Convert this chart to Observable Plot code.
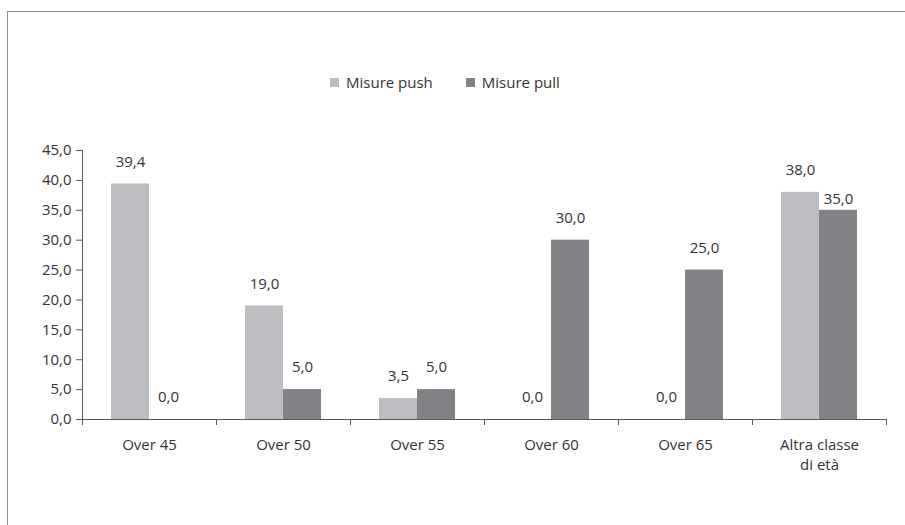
<!DOCTYPE html>
<html>
<head>
<meta charset="utf-8">
<script src="https://cdn.jsdelivr.net/npm/d3@7"></script>
<script src="https://cdn.jsdelivr.net/npm/@observablehq/plot@0.6"></script>
<style>
  html, body { margin: 0; padding: 0; background: #fff; }
  #wrap { position: relative; width: 905px; height: 525px; font-family: "Open Sans", sans-serif; color: #333; overflow: hidden; }
  #border { position: absolute; left: 7px; top: 11px; width: 910px; height: 530px; border-left: 1px solid #8c8c8c; border-top: 1px solid #8c8c8c; }
  #legend { position: absolute; left: 330px; top: 72px; display: flex; align-items: center; font-size: 15px; line-height: 20px; }
  .item { display: flex; align-items: center; margin-right: 33px; }
  .sw { width: 9px; height: 9px; margin-right: 7px; }
  #chart { position: absolute; left: 0; top: 0; }
</style>
</head>
<body>
<div id="wrap">
  <div id="border"></div>
  <div id="legend"></div>
  <div id="chart"></div>
</div>
<script>
const categories = ["Over 45", "Over 50", "Over 55", "Over 60", "Over 65", "Altra classe\ndi età"];
const series = ["Misure push", "Misure pull"];
const pushValues = [39.4, 19.0, 3.5, 0.0, 0.0, 38.0];
const pullValues = [0.0, 5.0, 5.0, 30.0, 25.0, 35.0];
const seriesColors = ["#bcbdc0", "#808285"];
const yTicks = [0, 5, 10, 15, 20, 25, 30, 35, 40, 45];

const rows = [];
categories.forEach((c, i) => {
  rows.push({cat: c, series: series[0], value: pushValues[i]});
  rows.push({cat: c, series: series[1], value: pullValues[i]});
});
const fmt = d => d.toFixed(1).replace(".", ",");

// legend
const legend = document.getElementById("legend");
series.forEach((s, i) => {
  const item = document.createElement("div");
  item.className = "item";
  const sw = document.createElement("span");
  sw.className = "sw";
  sw.style.background = seriesColors[i];
  const t = document.createElement("span");
  t.textContent = s;
  item.appendChild(sw); item.appendChild(t);
  legend.appendChild(item);
});

const pushRows = rows.filter(d => d.series === series[0]);
const pullRows = rows.filter(d => d.series === series[1]);
const lastCat = categories[categories.length - 1];

const plot = Plot.plot({
  width: 905,
  height: 525,
  marginLeft: 82,
  marginRight: 19,
  marginTop: 150,
  marginBottom: 106,
  style: {fontFamily: "Open Sans, sans-serif", fontSize: "15px", color: "#333", background: "transparent", overflow: "visible"},
  x: {domain: categories, padding: 0},
  y: {domain: [0, 45]},
  color: {domain: series, range: seriesColors},
  marks: [
    Plot.barY(pushRows, {x: "cat", y: "value", fill: "series", insetLeft: 29, insetRight: 67}),
    Plot.barY(pullRows, {x: "cat", y: "value", fill: "series", insetLeft: 67, insetRight: 29}),
    Plot.ruleY([0], {stroke: "#595959"}),
    Plot.axisY({ticks: yTicks, tickFormat: fmt, tickSize: 6, tickPadding: 5, label: null, stroke: "#595959", fill: "#333"}),
    Plot.axisX({tickSize: 0, tickPadding: 16, label: null, fill: "#333", lineHeight: 1.33}),
    (index, scales, values, dims) => {
      const x = scales.x, y = scales.y;
      const step = (dims.width - dims.marginLeft - dims.marginRight) / categories.length;
      const g = d3.create("svg:g").attr("stroke", "#595959").attr("fill", "none");
      g.append("line").attr("x1", dims.marginLeft + 0.5).attr("x2", dims.marginLeft + 0.5)
        .attr("y1", y(0)).attr("y2", y(45));
      const edges = categories.map(c => x(c)).concat([x(lastCat) + step]);
      edges.forEach(ex => {
        g.append("line").attr("x1", ex + 0.5).attr("x2", ex + 0.5).attr("y1", y(0)).attr("y2", y(0) + 6);
      });
      return g.node();
    },
    Plot.text(pushRows, {x: "cat", y: "value", text: d => fmt(d.value), dx: -19, dy: -22, fill: "#333"}),
    Plot.text(pullRows.filter(d => d.cat !== lastCat), {x: "cat", y: "value", text: d => fmt(d.value), dx: 19, dy: -22, fill: "#333"}),
    Plot.text(pullRows.filter(d => d.cat === lastCat), {x: "cat", y: "value", text: d => fmt(d.value), dx: 19, dy: -11, fill: "#333"})
  ]
});
document.getElementById("chart").appendChild(plot);
</script>
</body>
</html>
